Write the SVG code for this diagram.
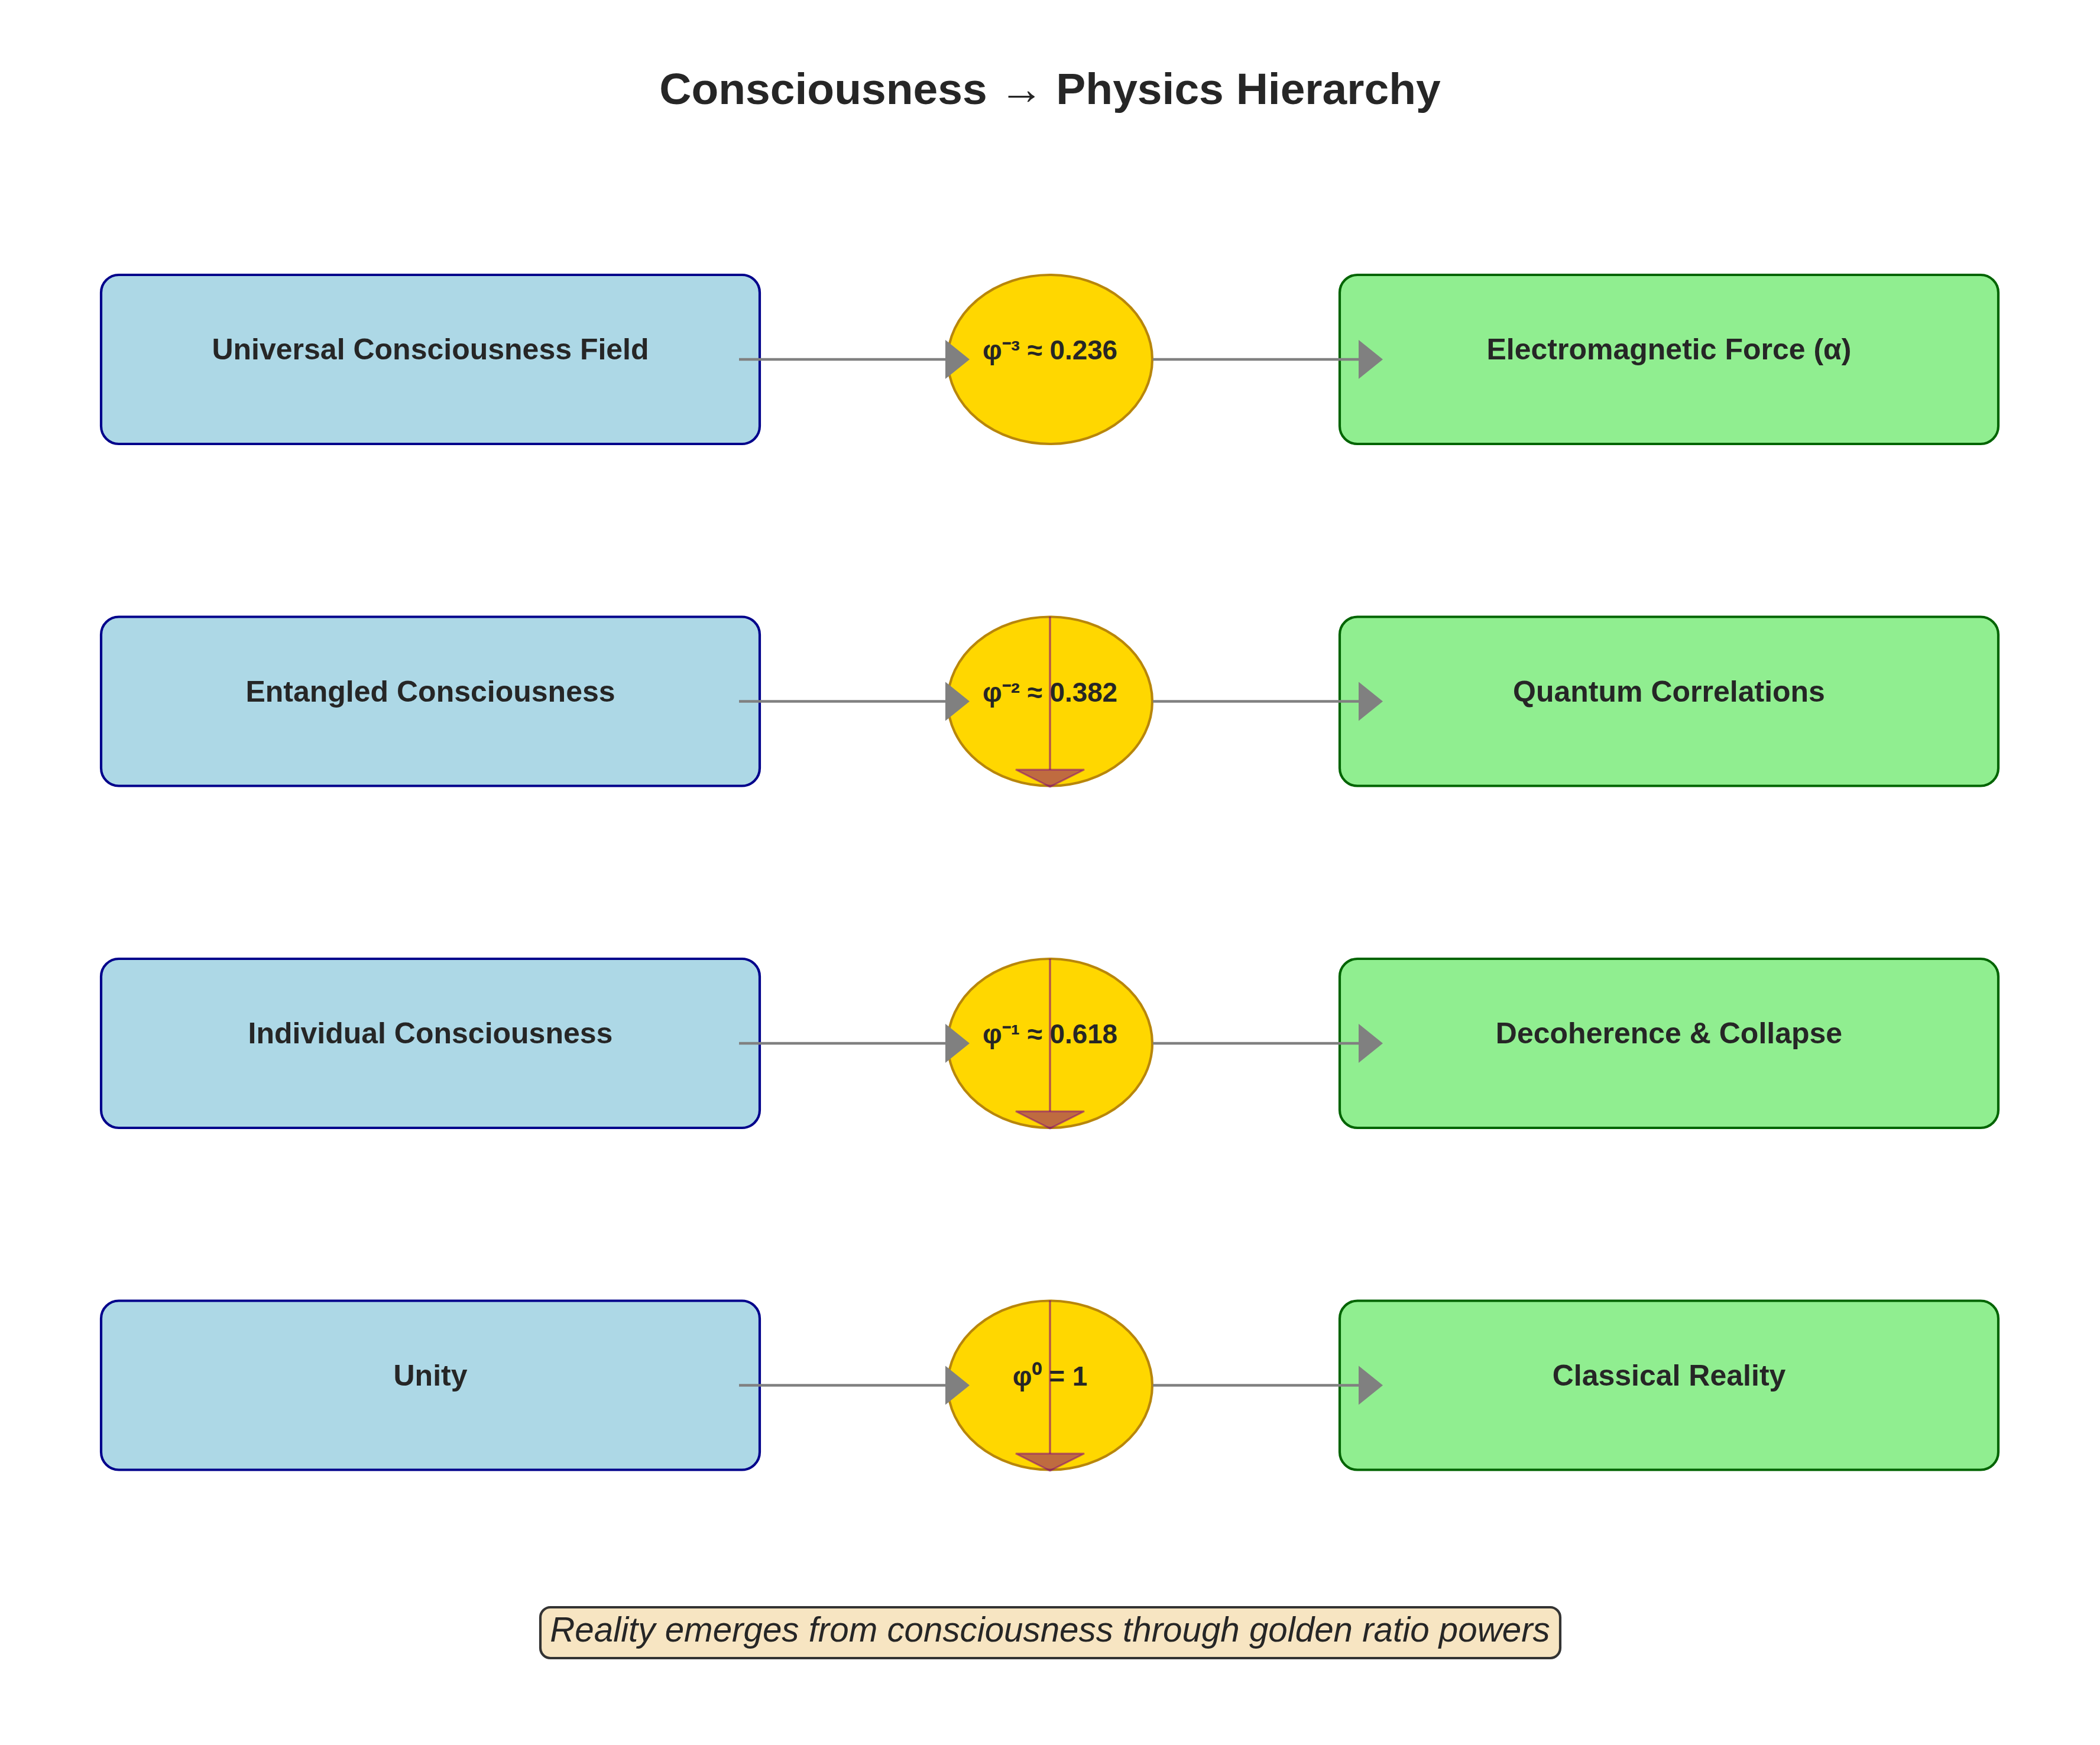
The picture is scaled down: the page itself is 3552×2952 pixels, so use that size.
<svg xmlns="http://www.w3.org/2000/svg" width="3552" height="2952" viewBox="0 0 3552 2952">
<style>
.t{font-family:"Liberation Sans",Arial,sans-serif;fill:#262626;text-anchor:middle}
.b{font-weight:bold}
.lb{fill:#ADD8E6;stroke:#00008B;stroke-width:4.17}
.gb{fill:#90EE90;stroke:#006400;stroke-width:4.17}
.el{fill:#FFD700;stroke:#B8860B;stroke-width:4.17}
.ar{stroke:#808080;stroke-width:4.5;fill:none}
.ah{fill:#808080}
.pl{stroke:#800080;stroke-opacity:0.6;stroke-width:3.5;fill:none}
.ph{fill:#800080;fill-opacity:0.5;stroke:#800080;stroke-opacity:0.5;stroke-width:3}
</style>
<rect width="3552" height="2952" fill="#ffffff"/>
<text class="t b" x="1776" y="176" font-size="75">Consciousness → Physics Hierarchy</text>

<g id="row1-consciousness"><rect class="lb" x="171" y="465" width="1114" height="286" rx="30"/><text class="t b" x="728" y="608" font-size="50">Universal Consciousness Field</text></g>
<g id="row2-consciousness"><rect class="lb" x="171" y="1043.5" width="1114" height="286" rx="30"/><text class="t b" x="728" y="1186.5" font-size="50">Entangled Consciousness</text></g>
<g id="row3-consciousness"><rect class="lb" x="171" y="1622" width="1114" height="286" rx="30"/><text class="t b" x="728" y="1765" font-size="50">Individual Consciousness</text></g>
<g id="row4-consciousness"><rect class="lb" x="171" y="2200.5" width="1114" height="286" rx="30"/><text class="t b" x="728" y="2343.5" font-size="50">Unity</text></g>

<g id="row1-physics"><rect class="gb" x="2266" y="465" width="1114" height="286" rx="30"/><text class="t b" x="2823" y="608" font-size="50">Electromagnetic Force (α)</text></g>
<g id="row2-physics"><rect class="gb" x="2266" y="1043.5" width="1114" height="286" rx="30"/><text class="t b" x="2823" y="1186.5" font-size="50">Quantum Correlations</text></g>
<g id="row3-physics"><rect class="gb" x="2266" y="1622" width="1114" height="286" rx="30"/><text class="t b" x="2823" y="1765" font-size="50">Decoherence &amp; Collapse</text></g>
<g id="row4-physics"><rect class="gb" x="2266" y="2200.5" width="1114" height="286" rx="30"/><text class="t b" x="2823" y="2343.5" font-size="50">Classical Reality</text></g>

<g id="row1-phi"><ellipse class="el" cx="1776" cy="608" rx="173" ry="143"/></g>
<g id="row2-phi"><ellipse class="el" cx="1776" cy="1186.5" rx="173" ry="143"/></g>
<g id="row3-phi"><ellipse class="el" cx="1776" cy="1765" rx="173" ry="143"/></g>
<g id="row4-phi"><ellipse class="el" cx="1776" cy="2343.5" rx="173" ry="143"/></g>

<g id="connectors">
<line class="ar" x1="1250" y1="608" x2="1600" y2="608"/><polygon class="ah" points="1599,575 1640,608 1599,641"/>
<line class="ar" x1="1950" y1="608" x2="2299" y2="608"/><polygon class="ah" points="2298,575 2339,608 2298,641"/>
<line class="ar" x1="1250" y1="1186.5" x2="1600" y2="1186.5"/><polygon class="ah" points="1599,1153.5 1640,1186.5 1599,1219.5"/>
<line class="ar" x1="1950" y1="1186.5" x2="2299" y2="1186.5"/><polygon class="ah" points="2298,1153.5 2339,1186.5 2298,1219.5"/>
<line class="ar" x1="1250" y1="1765" x2="1600" y2="1765"/><polygon class="ah" points="1599,1732 1640,1765 1599,1798"/>
<line class="ar" x1="1950" y1="1765" x2="2299" y2="1765"/><polygon class="ah" points="2298,1732 2339,1765 2298,1798"/>
<line class="ar" x1="1250" y1="2343.5" x2="1600" y2="2343.5"/><polygon class="ah" points="1599,2310.5 1640,2343.5 1599,2376.5"/>
<line class="ar" x1="1950" y1="2343.5" x2="2299" y2="2343.5"/><polygon class="ah" points="2298,2310.5 2339,2343.5 2298,2376.5"/>
<line class="pl" x1="1776" y1="1043" x2="1776" y2="1302"/><polygon class="ph" points="1718,1302 1834,1302 1776,1331"/>
<line class="pl" x1="1776" y1="1622" x2="1776" y2="1880"/><polygon class="ph" points="1718,1880 1834,1880 1776,1909"/>
<line class="pl" x1="1776" y1="2200" x2="1776" y2="2459"/><polygon class="ph" points="1718,2459 1834,2459 1776,2488"/>
</g>

<g id="phi-labels">
<text class="t b" x="1776" y="608" font-size="45.8">φ⁻³ ≈ 0.236</text>
<text class="t b" x="1776" y="1186.5" font-size="45.8">φ⁻² ≈ 0.382</text>
<text class="t b" x="1776" y="1765" font-size="45.8">φ⁻¹ ≈ 0.618</text>
<text class="t b" x="1776" y="2343.5" font-size="45.8">φ⁰ = 1</text>
</g>

<g id="footer"><rect x="914" y="2719" width="1725" height="86" rx="17" fill="#F7E5C2" stroke="#333333" stroke-width="4.17"/><text class="t" x="1776" y="2777" font-size="58.3" font-style="italic">Reality emerges from consciousness through golden ratio powers</text></g>
</svg>
